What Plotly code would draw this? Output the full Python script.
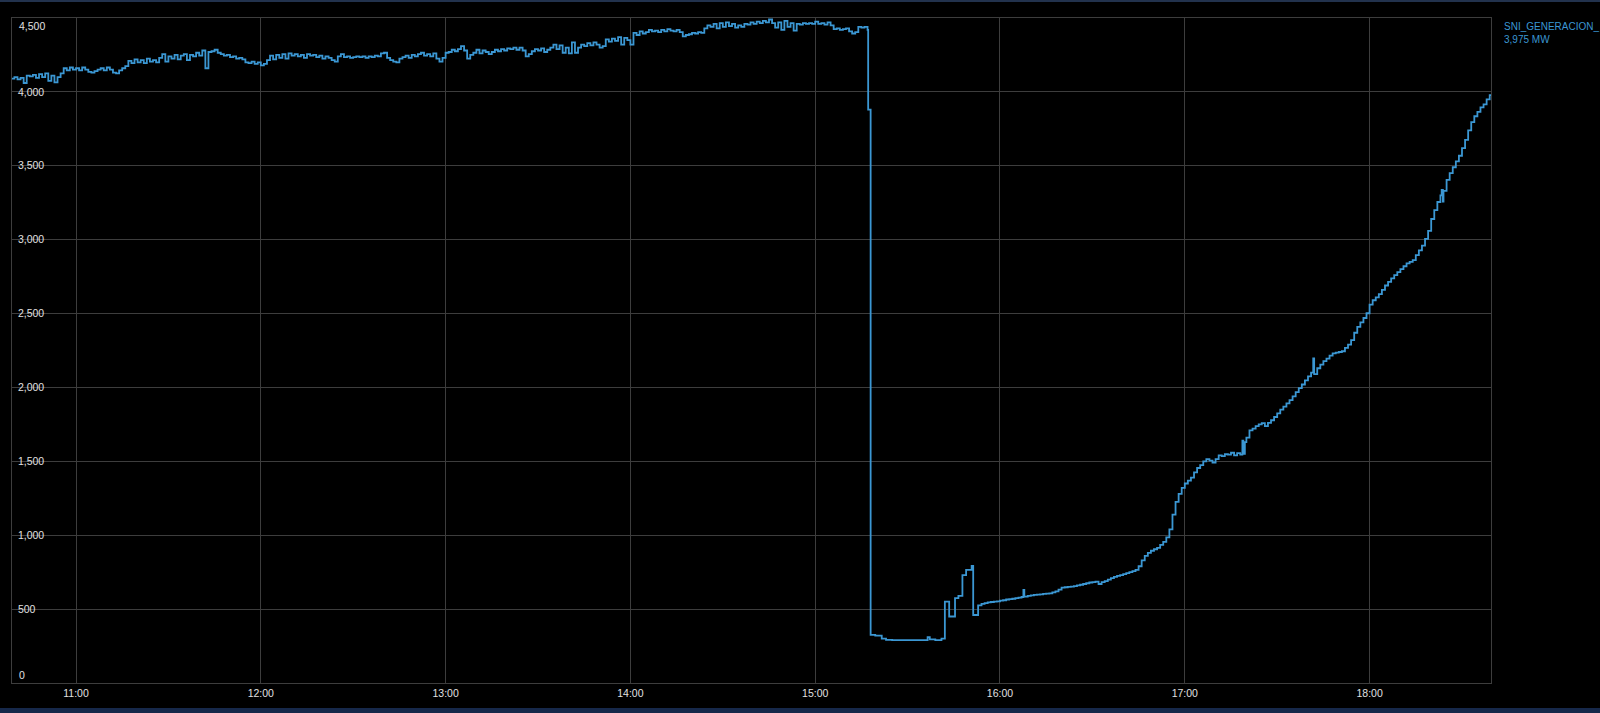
import pandas as pd
import plotly.graph_objects as go

DAY = "2024-06-19"

# Minute-by-minute generation before the event (10:39 .. 15:17), MW
pre_start_minute = 639
pre_values = [
    4090, 4100, 4085, 4095, 4060, 4110, 4105, 4115, 4095, 4120,
    4100, 4125, 4075, 4110, 4065, 4100, 4125, 4160, 4145, 4165,
    4150, 4160, 4145, 4165, 4150, 4135, 4130, 4140, 4150, 4160,
    4145, 4165, 4150, 4130, 4125, 4145, 4160, 4175, 4210, 4195,
    4220, 4200, 4215, 4195, 4225, 4205, 4215, 4200, 4230, 4255,
    4205, 4240, 4225, 4250, 4220, 4245, 4255, 4215, 4250, 4240,
    4265, 4245, 4280, 4160, 4270, 4275, 4285, 4265, 4255, 4245,
    4250, 4235, 4240, 4225, 4230, 4220, 4200, 4195, 4205, 4190,
    4200, 4180, 4190, 4215, 4245, 4220, 4250, 4230, 4255, 4225,
    4260, 4245, 4255, 4240, 4250, 4230, 4255, 4245, 4250, 4235,
    4245, 4225, 4240, 4230, 4215, 4205, 4240, 4255, 4235, 4240,
    4230, 4235, 4240, 4235, 4240, 4230, 4240, 4235, 4245, 4240,
    4260, 4265, 4230, 4215, 4205, 4200, 4225, 4235, 4245, 4230,
    4250, 4240, 4255, 4265, 4245, 4255, 4240, 4260, 4225, 4205,
    4230, 4265,
    4270, 4285, 4275, 4290, 4310, 4280, 4225, 4250, 4265, 4285,
    4260, 4280, 4270, 4255, 4270, 4285, 4275, 4290, 4280, 4295,
    4290, 4300, 4285, 4300, 4280, 4240, 4255, 4275, 4290, 4280,
    4295, 4270, 4285, 4300, 4320, 4290, 4315, 4265, 4300, 4260,
    4335, 4265, 4300, 4320, 4310, 4330, 4315, 4335, 4320, 4300,
    4310, 4355, 4340, 4360, 4345, 4370, 4320, 4365, 4350, 4320,
    4400, 4385, 4410, 4395, 4405, 4420, 4410, 4415, 4405, 4420,
    4410, 4425, 4415, 4410, 4420, 4405, 4375, 4385, 4390, 4400,
    4395, 4405, 4400, 4430, 4450, 4440, 4460, 4430, 4465, 4440,
    4470, 4445, 4460, 4435, 4450, 4440, 4460, 4455, 4470, 4460,
    4475, 4465, 4480, 4470, 4490, 4465, 4435, 4470, 4420, 4480,
    4440, 4465, 4415, 4460, 4455, 4465, 4460, 4465, 4460, 4475,
    4460, 4465, 4455, 4470, 4450, 4425, 4430, 4420, 4425, 4430,
    4410, 4395, 4405, 4440, 4435, 4440, 4420,
]

# Collapse, restoration and recovery ramp (minutes after midnight, MW)
post_minutes = [
    917.2, 918.0, 919.5, 921.6, 923, 925, 930, 936.5, 937.2, 939,
    941, 942.1, 943.5, 945.4, 946.5, 947.8, 949, 950.8, 951.3, 952.9,
    954, 955, 956, 957, 958, 959, 960, 961, 962, 963,
    964, 965, 966, 967, 967.6, 967.9, 969, 970, 971, 972,
    973, 974, 975, 976, 977, 978, 979, 980, 981, 982,
    983, 984, 985, 986, 987, 988, 989, 990, 991, 992,
    993, 994, 995, 996, 997, 998, 999, 1000, 1001, 1002,
    1003, 1004, 1005, 1006, 1007, 1008, 1009, 1010, 1011, 1012,
    1013, 1014, 1015, 1016, 1017, 1018, 1019, 1020, 1021, 1022,
    1023, 1024, 1025, 1026, 1027, 1028, 1029, 1030, 1031, 1032,
    1033, 1034, 1035, 1036, 1037, 1038, 1038.7, 1039.0, 1039.5, 1040,
    1041, 1042, 1043, 1044, 1045, 1046, 1047, 1048, 1049, 1050,
    1051, 1052, 1053, 1054, 1055, 1056, 1057, 1058, 1059, 1060,
    1061, 1061.7, 1062, 1063, 1064, 1065, 1066, 1067, 1068, 1069,
    1070, 1071, 1072, 1073, 1074, 1075, 1076, 1077, 1078, 1079,
    1080, 1081, 1082, 1083, 1084, 1085, 1086, 1087, 1088, 1089,
    1090, 1091, 1092, 1093, 1094, 1095, 1096, 1097, 1098, 1099,
    1100, 1101, 1102, 1103, 1103.4, 1103.8, 1104, 1105, 1106, 1107,
    1108, 1109, 1110, 1111, 1112, 1113, 1114, 1115, 1116, 1117,
    1118, 1119, 1119.4,
]
post_values = [
    3880, 325, 320, 300, 292, 290, 290, 310, 295, 290,
    300, 550, 450, 575, 590, 730, 765, 792, 460, 525,
    535, 540, 545, 548, 550, 553, 557, 560, 565, 567,
    570, 574, 578, 582, 630, 585, 590, 593, 597, 598,
    600, 603, 605, 607, 613, 620, 632, 645, 648, 650,
    652, 655, 660, 665, 670, 675, 680, 683, 686, 670,
    682, 690, 700, 710, 718, 725, 730, 737, 744, 750,
    757, 765, 790, 830, 860, 880, 895, 905, 915, 935,
    955, 985, 1040, 1140, 1225, 1280, 1320, 1350, 1370, 1390,
    1425, 1455, 1475, 1500, 1515, 1505, 1492, 1515, 1540, 1535,
    1548, 1545, 1558, 1540, 1555, 1545, 1640, 1550, 1630, 1660,
    1710, 1722, 1738, 1750, 1758, 1738, 1760, 1778, 1800, 1825,
    1850, 1870, 1892, 1914, 1940, 1968, 1995, 2020, 2048, 2075,
    2100, 2197, 2090, 2130, 2155, 2178, 2195, 2215, 2230, 2236,
    2240, 2245, 2268, 2290, 2320, 2370, 2410, 2440, 2470, 2502,
    2560, 2590, 2610, 2632, 2660, 2690, 2715, 2738, 2760, 2780,
    2800, 2820, 2840, 2850, 2862, 2895, 2928, 2960, 3005, 3060,
    3140, 3200, 3255, 3300, 3337, 3258, 3330, 3405, 3450, 3490,
    3530, 3568, 3620, 3675, 3740, 3795, 3835, 3865, 3895, 3915,
    3950, 3978, 3975,
]

series_name = "SNI_GENERACION_"
last_label = "3,975 MW"
y_ticks = [500, 1000, 1500, 2000, 2500, 3000, 3500, 4000]
y_tick_text = ["500", "1,000", "1,500", "2,000", "2,500", "3,000", "3,500", "4,000"]
y_edge_labels = ["0", "4,500"]

base = pd.Timestamp(DAY)


def to_time(ms):
    return [base + pd.Timedelta(minutes=m) for m in ms]


all_minutes = [pre_start_minute + i for i in range(len(pre_values))] + post_minutes
all_values = pre_values + post_values

LINE = "#3b97d3"
GRID = "#3d3d3d"
TXT = "#e0e0e0"
FONT = "Arial, Liberation Sans, sans-serif"

fig = go.Figure()
fig.add_trace(go.Scatter(
    x=to_time(all_minutes), y=all_values, mode="lines",
    line=dict(color=LINE, width=1.8, shape="hv"),
    name=series_name, showlegend=False, hoverinfo="skip",
))

fig.update_layout(
    width=1600, height=713, autosize=False,
    paper_bgcolor="#000000", plot_bgcolor="#000000",
    margin=dict(l=12, r=109, t=18, b=30, pad=0),
    font=dict(family=FONT, size=10.5, color=TXT),
    xaxis=dict(
        range=[base + pd.Timedelta(minutes=639.22), base + pd.Timedelta(minutes=1119.42)],
        type="date", dtick=3600000, tickformat="%H:%M",
        tick0=base + pd.Timedelta(hours=11),
        showgrid=True, gridcolor=GRID, gridwidth=1,
        showline=True, linecolor=GRID, linewidth=1, mirror=True,
        ticks="", zeroline=False, tickfont=dict(size=10.5, color=TXT),
    ),
    yaxis=dict(
        range=[0, 4500], tickvals=y_ticks, ticktext=y_tick_text,
        showgrid=True, gridcolor=GRID, gridwidth=1,
        showline=True, linecolor=GRID, linewidth=1, mirror=True,
        ticks="", zeroline=False, ticklabelposition="inside",
        tickfont=dict(size=10.5, color=TXT), ticklabelstandoff=5,
    ),
    annotations=[
        dict(xref="paper", yref="paper", x=1.0074, y=0.9985, xanchor="left", yanchor="top",
             text=series_name + "<br>" + last_label, showarrow=False, align="left",
             font=dict(size=10, color=LINE, family=FONT)),
        dict(xref="paper", yref="paper", x=0.0035, y=0.0, xanchor="left", yanchor="bottom",
             text=y_edge_labels[0], showarrow=False,
             font=dict(size=10.5, color=TXT, family=FONT)),
        dict(xref="paper", yref="paper", x=0.0035, y=1.0, xanchor="left", yanchor="top",
             text=y_edge_labels[1], showarrow=False,
             font=dict(size=10.5, color=TXT, family=FONT)),
    ],
    shapes=[
        dict(type="rect", xref="paper", yref="paper", x0=-0.02, x1=1.1,
             y0=1.0241, y1=1.03, fillcolor="#22324d", line=dict(width=0), layer="below"),
        dict(type="rect", xref="paper", yref="paper", x0=-0.02, x1=1.1,
             y0=-0.046, y1=-0.0376, fillcolor="#16284a", line=dict(width=0), layer="below"),
    ],
)

fig.write_html(
    "out.html",
    config={"displayModeBar": False},
    post_script="document.body.style.margin='0';document.body.style.background='#000';",
)
